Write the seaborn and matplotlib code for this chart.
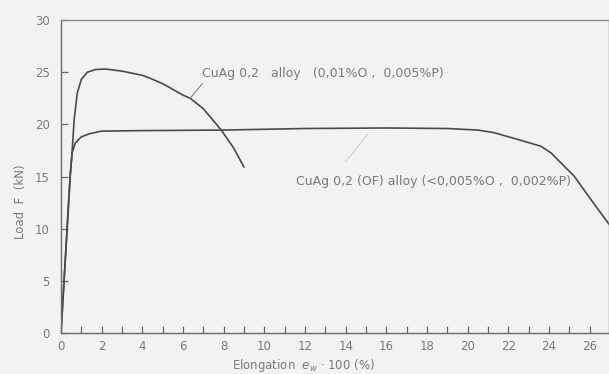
import matplotlib
matplotlib.use("Agg")
import matplotlib.pyplot as plt
import seaborn as sns
import pandas as pd
from matplotlib.ticker import MultipleLocator

sns.set_theme(style="white")
plt.rcParams['font.family'] = ['DejaVu Sans']

# CuAg 0,2 alloy (0,01%O , 0,005%P)
x_alloy = [0, 0.15, 0.3, 0.45, 0.55, 0.65, 0.8, 1.0, 1.3, 1.7, 2.2, 3.0, 4.0, 4.4, 5.0, 6.0, 6.35, 7.0, 7.9, 8.5, 9.0]
y_alloy = [0, 5, 10, 15, 17.5, 20.5, 23.0, 24.3, 25.0, 25.25, 25.3, 25.1, 24.7, 24.4, 23.9, 22.8, 22.5, 21.5, 19.4, 17.7, 15.9]

# CuAg 0,2 (OF) alloy (<0,005%O , 0,002%P)
x_of = [0, 0.15, 0.3, 0.45, 0.55, 0.7, 1.0, 1.4, 2.0, 4.0, 8.0, 12.0, 16.0, 19.0, 20.5, 21.3, 22.45, 23.6, 24.09, 25.24, 26.06, 27.0]
y_of = [0, 5, 10, 15, 17.3, 18.2, 18.8, 19.1, 19.35, 19.4, 19.45, 19.6, 19.65, 19.6, 19.45, 19.2, 18.56, 17.9, 17.28, 15.03, 12.79, 10.3]

x_ticks = [0, 2, 4, 6, 8, 10, 12, 14, 16, 18, 20, 22, 24, 26]
y_ticks = [0, 5, 10, 15, 20, 25, 30]

label_alloy = "CuAg 0,2   alloy   (0,01%O ,  0,005%P)"
label_of = "CuAg 0,2 (OF) alloy (<0,005%O ,  0,002%P)"

bg = "#f2f2f2"
ink = "#4a4a4a"
txt = "#7a7a7a"

fig = plt.figure(figsize=(6.09, 3.74), dpi=100, facecolor=bg)
ax = fig.add_axes([61/609, 1-333/374, 548/609, 313/374])
ax.set_facecolor(bg)

df1 = pd.DataFrame({"x": x_alloy, "y": y_alloy})
df2 = pd.DataFrame({"x": x_of, "y": y_of})
sns.lineplot(data=df1, x="x", y="y", ax=ax, color=ink, lw=1.2, estimator=None, sort=False)
sns.lineplot(data=df2, x="x", y="y", ax=ax, color=ink, lw=1.2, estimator=None, sort=False)

ax.set_xlim(0, 26.95)
ax.set_ylim(0, 30)
ax.set_xticks(x_ticks)
ax.set_yticks(y_ticks)
ax.xaxis.set_minor_locator(MultipleLocator(1))
ax.tick_params(axis="both", which="both", direction="in", colors="#6a6a6a",
               labelcolor=txt, labelsize=8.5, length=5, width=0.9,
               bottom=True, left=True, top=False, right=False)
ax.tick_params(axis="x", which="major", pad=5)
ax.tick_params(axis="y", which="major", pad=8)

for s in ax.spines.values():
    s.set_color("#6a6a6a")
    s.set_linewidth(1.0)
ax.spines["top"].set_color("#8a8a8a")
ax.spines["right"].set_color("#8a8a8a")

ax.set_xlabel("Elongation  $e_{w}$ · 100 (%)", color=txt, fontsize=8.5)
ax.set_ylabel("Load  F  (kN)", color=txt, fontsize=8.5)
ax.xaxis.set_label_coords(0.443, -0.077)
ax.yaxis.set_label_coords(-0.062, 0.42)

# annotations with leader lines
ax.annotate(label_alloy, xy=(6.95, 24.9), color=txt, fontsize=9, va="center", ha="left")
ax.annotate("", xy=(6.35, 22.5), xytext=(6.95, 23.9),
            arrowprops=dict(arrowstyle="-", color="#888888", lw=0.8, shrinkA=0, shrinkB=0))
ax.annotate(label_of, xy=(11.55, 14.5), color=txt, fontsize=9, va="center", ha="left")
ax.annotate("", xy=(15.1, 19.1), xytext=(14.0, 16.4),
            arrowprops=dict(arrowstyle="-", color="#cfcfcf", lw=0.8, shrinkA=0, shrinkB=0))

fig.savefig("out.png", dpi=100, facecolor=bg)
